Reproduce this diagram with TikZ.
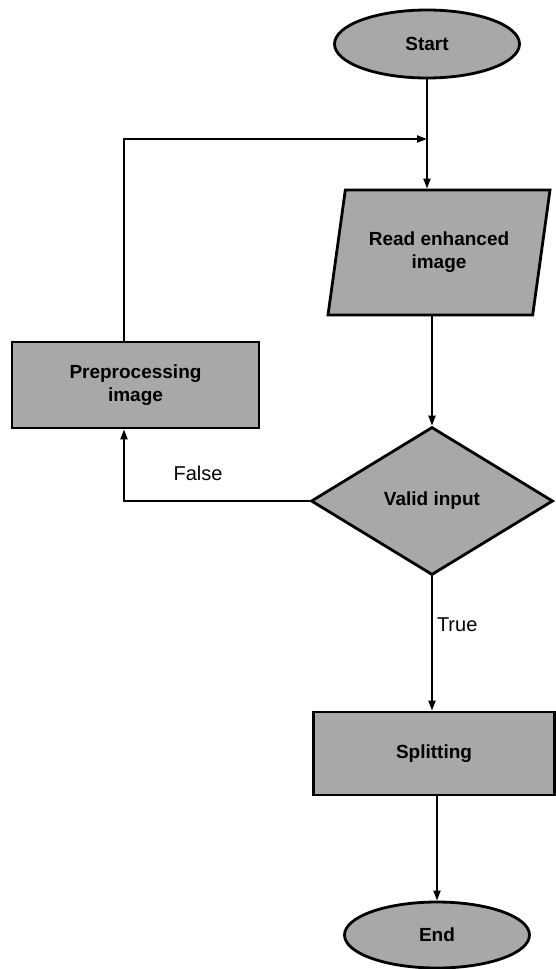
\documentclass[tikz,border=0pt]{standalone}
\usepackage{fontspec}
\setmainfont{Liberation Sans}
\usetikzlibrary{shapes.geometric,arrows.meta}
\begin{document}
\begin{tikzpicture}[x=1pt,y=-1pt,
  every node/.style={font=\fontsize{20}{23}\selectfont, align=center, inner sep=0pt},
  shapebox/.style={draw=black, line width=2.8pt, fill=black!34, font=\fontsize{19}{23}\selectfont\bfseries},
  terminal/.style={shapebox, ellipse, minimum width=185pt, minimum height=68pt},
  process/.style={shapebox, rectangle},
  io/.style={shapebox, trapezium, trapezium left angle=67, trapezium right angle=113,
    trapezium stretches body, minimum width=222pt, minimum height=125pt},
  decision/.style={shapebox, diamond, minimum width=242pt, minimum height=148pt},
  flow/.style={line width=2pt, -{Triangle[length=10pt,width=7pt]}},
  lbl/.style={font=\fontsize{20}{23}\selectfont}]
\useasboundingbox (0,0) rectangle (555,969);

% flowchart blocks
\node[terminal] (start) at (427,44) {Start};
\node[io] (read) at (439,252.5) {Read enhanced\\image};
\node[decision] (valid) at (432,501) {Valid input};
\node[process, minimum width=247pt, minimum height=86pt] (pre) at (135.5,385) {Preprocessing\\image};
\node[process, minimum width=241pt, minimum height=83pt] (split) at (434,753.5) {Splitting};
\node[terminal, minimum height=66pt] (end) at (437,935) {End};

% helper points for the feedback loop
\coordinate (fbx) at (124,0);
\coordinate (join) at (427,139);

% main flow
\draw[flow] (start.south) -- (start.south |- read.north);
\draw[flow] (valid.north |- read.south) -- (valid.north);
\draw[flow] (valid.south) -- (valid.south |- split.north)
  node[pos=0.36, right=4pt, lbl] (truelbl) {True};
\draw[flow] (end.north |- split.south) -- (end.north);

% false branch back to preprocessing, then into the main line
\draw[flow] (valid.west) -- (valid.west -| fbx) -- (fbx |- pre.south);
\draw[flow] (fbx |- pre.north) -- (fbx |- join) -- (join);

\node[lbl] (falselbl) at (198,473) {False};
\end{tikzpicture}
\end{document}
